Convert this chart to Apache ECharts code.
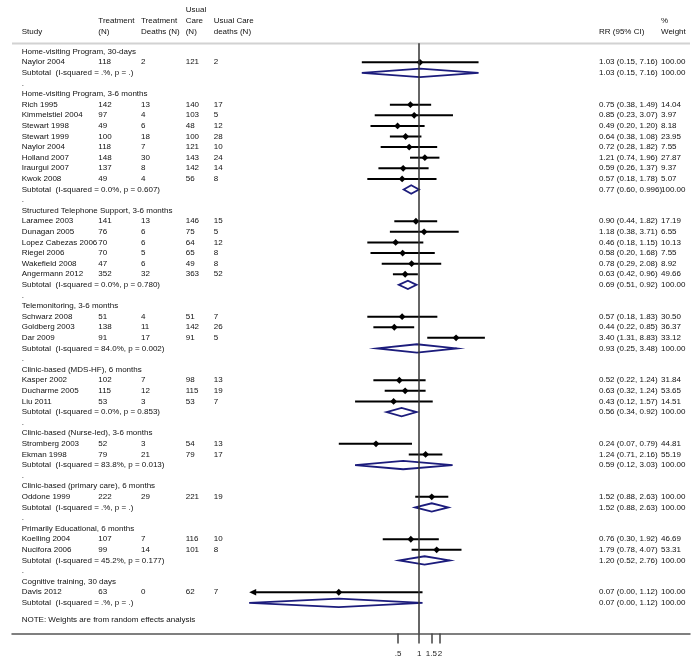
<!DOCTYPE html>
<html><head><meta charset="utf-8">
<script src="https://cdn.jsdelivr.net/npm/echarts@6/dist/echarts.min.js"></script>
<style>html,body{margin:0;padding:0;background:#fff}#c{width:696px;height:663px}</style>
</head><body><div id="c"></div>
<script>
// ---------------- data ----------------
const groupNames = ['Home-visiting Program, 30-days','Home-visiting Program, 3-6 months','Structured Telephone Support, 3-6 months','Telemonitoring, 3-6 months','Clinic-based (MDS-HF), 6 months','Clinic-based (Nurse-led), 3-6 months','Clinic-based (primary care), 6 months','Primarily Educational, 6 months','Cognitive training, 30 days'];
const studyGroup = [0,1,1,1,1,1,1,1,1,2,2,2,2,2,2,3,3,3,4,4,4,5,5,6,7,7,8];
const studyNames = ['Naylor 2004','Rich 1995','Kimmelstiel 2004','Stewart 1998','Stewart 1999','Naylor 2004','Holland 2007','Iraurgui 2007','Kwok 2008','Laramee 2003','Dunagan 2005','Lopez Cabezas 2006','Riegel 2006','Wakefield 2008','Angermann 2012','Schwarz 2008','Goldberg 2003','Dar 2009','Kasper 2002','Ducharme 2005','Liu 2011','Stromberg 2003','Ekman 1998','Oddone 1999','Koelling 2004','Nucifora 2006','Davis 2012'];
const treatN = [118,142,97,49,100,118,148,137,49,141,76,70,70,47,352,51,138,91,102,115,53,52,79,222,107,99,63];
const treatDeaths = [2,13,4,6,18,7,30,8,4,13,6,6,5,6,32,4,11,17,7,12,3,3,21,29,7,14,0];
const usualN = [121,140,103,48,100,121,143,142,56,146,75,64,65,49,363,51,142,91,98,115,53,54,79,221,116,101,62];
const usualDeaths = [2,17,5,12,28,10,24,14,8,15,5,12,8,8,52,7,26,5,13,19,7,13,17,19,10,8,7];
const studyRR = ['1.03','0.75','0.85','0.49','0.64','0.72','1.21','0.59','0.57','0.90','1.18','0.46','0.58','0.78','0.63','0.57','0.44','3.40','0.52','0.63','0.43','0.24','1.24','1.52','0.76','1.79','0.07'];
const studyLo = ['0.15','0.38','0.23','0.20','0.38','0.28','0.74','0.26','0.18','0.44','0.38','0.18','0.20','0.29','0.42','0.18','0.22','1.31','0.22','0.32','0.12','0.07','0.71','0.88','0.30','0.78','0.00'];
const studyHi = ['7.16','1.49','3.07','1.20','1.08','1.82','1.96','1.37','1.78','1.82','3.71','1.15','1.68','2.08','0.96','1.83','0.85','8.83','1.24','1.24','1.57','0.79','2.16','2.63','1.92','4.07','1.12'];
const studyWeight = ['100.00','14.04','3.97','8.18','23.95','7.55','27.87','9.37','5.07','17.19','6.55','10.13','7.55','8.92','49.66','30.50','36.37','33.12','31.84','53.65','14.51','44.81','55.19','100.00','46.69','53.31','100.00'];
const subtotalLabels = ['Subtotal  (I-squared = .%, p = .)','Subtotal  (I-squared = 0.0%, p = 0.607)','Subtotal  (I-squared = 0.0%, p = 0.780)','Subtotal  (I-squared = 84.0%, p = 0.002)','Subtotal  (I-squared = 0.0%, p = 0.853)','Subtotal  (I-squared = 83.8%, p = 0.013)','Subtotal  (I-squared = .%, p = .)','Subtotal  (I-squared = 45.2%, p = 0.177)','Subtotal  (I-squared = .%, p = .)'];
const subtotalRR = ['1.03','0.77','0.69','0.93','0.56','0.59','1.52','1.20','0.07'];
const subtotalLo = ['0.15','0.60','0.51','0.25','0.34','0.12','0.88','0.52','0.00'];
const subtotalHi = ['7.16','0.996','0.92','3.48','0.92','3.03','2.63','2.76','1.12'];
const subtotalWeight = ['100.00','100.00','100.00','100.00','100.00','100.00','100.00','100.00','100.00'];
const tickValues = [0.5, 1, 1.5, 2];
const tickLabels = ['.5', '1', '1.5', '2'];
const noteText = 'NOTE: Weights are from random effects analysis';
const rangeMinRR = 0.0036; // lower display limit of the plot (CI arrows)

// ---------------- layout / style ----------------
const FONT = 'Liberation Sans';
const TEXT = '#111';
const NAVY = '#1c1c7c';
const X_MIN = -13.48, X_MAX = 8.97;   // ln(RR) extent of the axis
const Y_MIN = -0.8, Y_MAX = 54.9;
const NOTE_GAP = 1.6;
const COLS = {study: 21.7, tN: 98.3, tD: 141, uN: 185.7, uD: 213.7, ci: 599, w: 661};
const RANGE_MIN_LN = Math.log(rangeMinRR);

// rows
const rows = []; let r = 0;
groupNames.forEach((g, gi) => {
  rows.push({r: r++, kind: 'h', label: g});
  studyNames.forEach((n, i) => { if (studyGroup[i] === gi) rows.push({r: r++, kind: 's', label: n, i}); });
  rows.push({r: r++, kind: 't', label: subtotalLabels[gi], i: gi});
  if (gi < groupNames.length - 1) rows.push({r: r++, kind: 'd', label: '.'});
});
rows.push({r: r - 1 + NOTE_GAP, kind: 'n', label: noteText});

const lnc = v => { const n = parseFloat(v); return n > 0 ? Math.log(n) : -Infinity; };
function ciData(kind, RR, LO, HI) {
  return rows.filter(o => o.kind === kind).map(o => {
    const lo = lnc(LO[o.i]);
    return [o.r, lnc(RR[o.i]), Math.max(lo, RANGE_MIN_LN), lnc(HI[o.i]), lo < RANGE_MIN_LN ? 1 : 0];
  });
}
const studyData = ciData('s', studyRR, studyLo, studyHi);
const subData = ciData('t', subtotalRR, subtotalLo, subtotalHi);

const txt = (x, y, s, extra) => Object.assign({type: 'text', x, y, silent: true,
  style: {text: String(s), fill: TEXT, fontSize: 8, fontFamily: FONT, align: 'left', verticalAlign: 'middle'}}, extra || {});

const headers = [
  [COLS.study, 31.5, 'Study'],
  [COLS.tN, 21, 'Treatment'], [COLS.tN, 31.5, '(N)'],
  [COLS.tD, 21, 'Treatment'], [COLS.tD, 31.5, 'Deaths (N)'],
  [COLS.uN, 10, 'Usual'], [COLS.uN, 21, 'Care'], [COLS.uN, 31.5, '(N)'],
  [COLS.uD, 21, 'Usual Care'], [COLS.uD, 31.5, 'deaths (N)'],
  [COLS.w, 20.5, '%'], [COLS.ci, 31.5, 'RR (95% CI)'], [COLS.w, 31.5, 'Weight']
];

const chart = echarts.init(document.getElementById('c'), null, {renderer: 'canvas'});
chart.setOption({
  animation: false,
  backgroundColor: '#fff',
  grid: {left: 12, right: 6, top: 43.2, bottom: 29.4},
  xAxis: {
    type: 'value', min: X_MIN, max: X_MAX, position: 'bottom',
    splitLine: {show: false},
    axisLine: {show: true, onZero: false, lineStyle: {color: '#555', width: 1.5}},
    axisTick: {show: true, inside: false, length: 10, customValues: tickValues.map(Math.log), lineStyle: {color: '#444', width: 1.5}},
    axisLabel: {
      customValues: tickValues.map(Math.log), margin: 16, fontSize: 8, color: '#222', fontFamily: FONT,
      formatter: v => { const k = tickValues.findIndex(t => Math.abs(Math.log(t) - v) < 1e-6); return k >= 0 ? tickLabels[k] : ''; }
    }
  },
  yAxis: {type: 'value', inverse: true, min: Y_MIN, max: Y_MAX, show: false},
  graphic: [
    {type: 'line', silent: true, shape: {x1: 12, y1: 43.5, x2: 690, y2: 43.5}, style: {stroke: '#d2d2d2', lineWidth: 2}},
    ...headers.map(h => txt(h[0], h[1], h[2]))
  ],
  series: [
    {
      type: 'custom', name: 'text', coordinateSystem: 'cartesian2d', clip: false, silent: true,
      data: rows.map(o => [0, o.r]), encode: {x: 0, y: 1},
      renderItem: (params, api) => {
        const o = rows[params.dataIndex];
        const y = api.coord([0, o.r])[1];
        const ch = [txt(COLS.study, y, o.label)];
        if (o.kind === 's') {
          ch.push(txt(COLS.tN, y, treatN[o.i]), txt(COLS.tD, y, treatDeaths[o.i]), txt(COLS.uN, y, usualN[o.i]), txt(COLS.uD, y, usualDeaths[o.i]));
          ch.push(txt(COLS.ci, y, `${studyRR[o.i]} (${studyLo[o.i]}, ${studyHi[o.i]})`), txt(COLS.w, y, studyWeight[o.i]));
        } else if (o.kind === 't') {
          ch.push(txt(COLS.ci, y, `${subtotalRR[o.i]} (${subtotalLo[o.i]}, ${subtotalHi[o.i]})`), txt(COLS.w, y, subtotalWeight[o.i]));
        }
        return {type: 'group', children: ch};
      }
    },
    {
      type: 'custom', name: 'studies', coordinateSystem: 'cartesian2d', clip: false, silent: true,
      data: studyData, encode: {x: [1, 2, 3], y: 0}, z: 3,
      renderItem: (params, api) => {
        const row = api.value(0);
        const c = api.coord([api.value(1), row]);
        const lo = api.coord([api.value(2), row]);
        const hi = api.coord([api.value(3), row]);
        const y = c[1], clipped = api.value(4) === 1, s = 3.4;
        const ch = [];
        ch.push({type: 'line', shape: {x1: clipped ? lo[0] + 5 : lo[0], y1: y, x2: hi[0], y2: y}, style: {stroke: '#000', lineWidth: 2}});
        if (clipped) ch.push({type: 'polygon', shape: {points: [[lo[0], y], [lo[0] + 7, y - 3.2], [lo[0] + 7, y + 3.2]]}, style: {fill: '#000'}});
        ch.push({type: 'polygon', shape: {points: [[c[0], y - s], [c[0] + s, y], [c[0], y + s], [c[0] - s, y]]}, style: {fill: '#000'}});
        return {type: 'group', children: ch};
      },
      markLine: {
        silent: true, symbol: ['none', 'none'], label: {show: false},
        lineStyle: {color: '#333', width: 1.5, type: 'solid'},
        data: [{xAxis: 0}]
      }
    },
    {
      type: 'custom', name: 'subtotals', coordinateSystem: 'cartesian2d', clip: false, silent: true,
      data: subData, encode: {x: [1, 2, 3], y: 0}, z: 3,
      renderItem: (params, api) => {
        const row = api.value(0);
        const c = api.coord([api.value(1), row]);
        const lo = api.coord([api.value(2), row]);
        const hi = api.coord([api.value(3), row]);
        const y = c[1], h = 4.2;
        return {type: 'polygon', shape: {points: [[lo[0], y], [c[0], y - h], [hi[0], y], [c[0], y + h]]},
          style: {fill: 'none', stroke: NAVY, lineWidth: 1.8, lineJoin: 'miter'}};
      }
    }
  ]
});
</script></body></html>
